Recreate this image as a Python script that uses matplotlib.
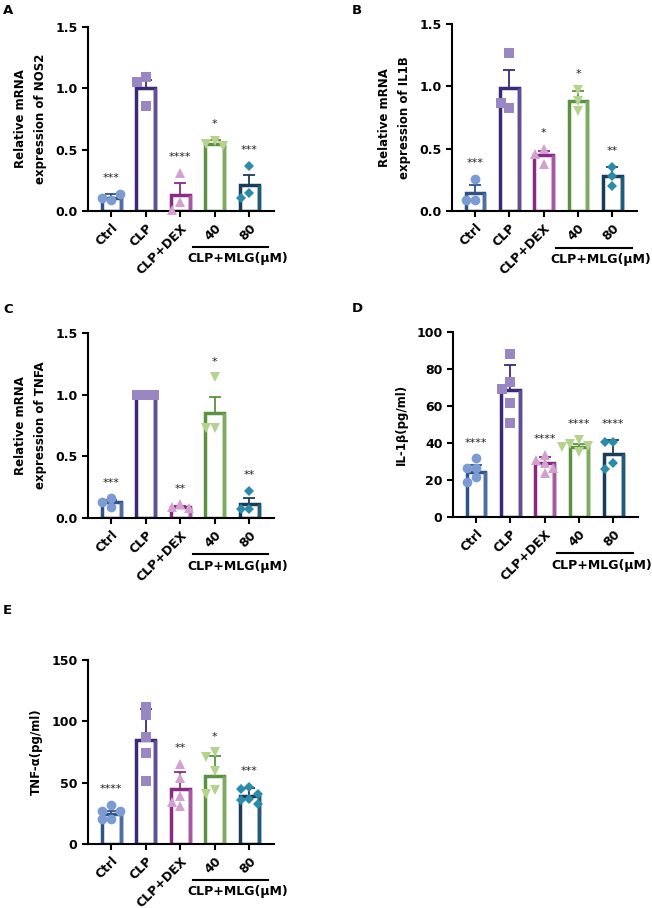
import numpy as np
import matplotlib
matplotlib.use('Agg')
import matplotlib.pyplot as plt
from matplotlib.colors import to_rgb
from matplotlib.ticker import FormatStrFormatter

plt.rcParams['font.family'] = ['DejaVu Sans']
plt.rcParams['font.weight'] = 'bold'
plt.rcParams['axes.labelweight'] = 'bold'

groups = ['Ctrl', 'CLP', 'CLP+DEX', '40', '80']
edge_colors = ['#2f5289', '#3b2a78', '#8a2a86', '#5a9240', '#1b3d5a']
point_colors = ['#7b9bd2', '#9a86c2', '#d3a0d0', '#b5d38e', '#2b8bab']
markers = ['o', 's', '^', 'v', 'D']
msizes = [7, 6.5, 7.5, 7.5, 5.5]

# A - NOS2
nos2_pts = [[0.09, 0.11, 0.14], [1.09, 1.05, 0.86], [0.31, 0.07, 0.01],
            [0.57, 0.55, 0.53], [0.37, 0.15, 0.11]]
nos2_mean = [0.11, 1.0, 0.13, 0.55, 0.21]
nos2_err = [0.025, 0.07, 0.095, 0.03, 0.085]
nos2_stars = ['***', '', '****', '*', '***']

# B - IL1B
il1b_pts = [[0.26, 0.09, 0.09], [1.27, 0.83, 0.87], [0.50, 0.46, 0.38],
            [0.97, 0.88, 0.80], [0.355, 0.28, 0.20]]
il1b_mean = [0.145, 0.99, 0.45, 0.88, 0.28]
il1b_err = [0.06, 0.14, 0.035, 0.085, 0.075]
il1b_stars = ['***', '', '*', '*', '**']

# C - TNFA
tnfa_pts = [[0.16, 0.13, 0.09], [1.0, 1.0, 1.0], [0.11, 0.09, 0.08],
            [1.14, 0.73, 0.73], [0.22, 0.07, 0.07]]
tnfa_mean = [0.13, 1.0, 0.09, 0.85, 0.11]
tnfa_err = [0.02, 0.0, 0.01, 0.135, 0.055]
tnfa_stars = ['***', '', '**', '*', '**']

# D - IL-1b protein
il1b_pg_pts = [[31.7, 26.3, 26.3, 21.8, 19.1], [88, 72.8, 69.2, 61.4, 50.6],
               [33.5, 30.8, 29, 26.7, 23.6], [41.6, 39.5, 38.4, 37.7, 35],
               [40.8, 40.8, 29, 25.8]]
il1b_pg_mean = [24.1, 68.4, 29, 37.7, 34.1]
il1b_pg_err = [4.0, 14, 3.6, 1.8, 7.5]
il1b_pg_stars = ['****', '', '****', '****', '****']

# E - TNF-a protein
tnfa_pg_pts = [[32, 27, 27, 20, 20], [112, 105, 87.5, 74, 51.6],
               [65.6, 53.5, 39.4, 34.5, 31], [74.7, 70.7, 59.5, 44, 40.5],
               [46.5, 45, 40.5, 37, 36, 32.5]]
tnfa_pg_mean = [24.5, 85, 44.8, 55.5, 39.1]
tnfa_pg_err = [2.5, 25, 14, 16.5, 6.3]
tnfa_pg_stars = ['****', '', '**', '*', '***']


def swarm(vals, h, step):
    placed = []
    offs = []
    for v in vals:
        for k in [0, -1, 1, -2, 2, -3, 3]:
            o = k * step
            if all(abs(o - po) > 1e-9 or abs(v - pv) >= h for po, pv in placed):
                break
        placed.append((o, v))
        offs.append(o)
    return np.array(offs)


def draw_panel(rect, pts, means, errs, stars, ymax, yticks, ylabel, fmt):
    ax = fig.add_axes(rect)
    x = np.arange(len(groups))
    bw = 0.55
    ax.bar(x, means, width=bw, color='white', edgecolor=edge_colors,
           linewidth=2.5, zorder=2)
    for i in range(len(groups)):
        # right side of the outline is a bit lighter, like the original
        mix = 0.6 * np.array(to_rgb(edge_colors[i])) + 0.4 * np.array(to_rgb(point_colors[i]))
        ax.plot([x[i] + bw / 2] * 2, [0, means[i]], color=mix, lw=2.5,
                solid_capstyle='butt', zorder=2.1)
        ax.errorbar(x[i], means[i], yerr=[[0], [errs[i]]], color=edge_colors[i],
                    lw=1.3, capsize=4.5, capthick=1.3, zorder=3)
        offs = swarm(pts[i], 0.045 * ymax, 0.25)
        ax.plot(x[i] + offs, pts[i], ls='none', marker=markers[i], ms=msizes[i],
                color=point_colors[i], mew=0, zorder=4, clip_on=False)
        if stars[i]:
            top = max(max(pts[i]), means[i] + errs[i])
            ax.text(x[i], top + 0.085 * ymax, stars[i], ha='center', va='center',
                    fontsize=8, color='#222222', fontweight='normal')
    ax.set_xlim(-0.67, 4.72)
    ax.set_ylim(0, ymax)
    ax.set_yticks(yticks)
    ax.yaxis.set_major_formatter(FormatStrFormatter(fmt))
    ax.set_xticks(x)
    ax.set_xticklabels(groups, rotation=45, ha='right', rotation_mode='anchor')
    ax.spines['top'].set_visible(False)
    ax.spines['right'].set_visible(False)
    ax.spines['left'].set_linewidth(1.5)
    ax.spines['bottom'].set_linewidth(1.5)
    ax.tick_params(width=1.5, length=4, labelsize=9)
    ax.set_ylabel(ylabel, fontsize=8.5, linespacing=1.7, labelpad=6)
    tr = ax.get_xaxis_transform()
    ax.plot([2.36, 4.56], [-0.196, -0.196], transform=tr, color='black',
            lw=1.5, clip_on=False)
    ax.text(3.66, -0.26, 'CLP+MLG(μM)', transform=tr, ha='center', va='center',
            fontsize=9)
    return ax


W, H = 652, 908
fig = plt.figure(figsize=(W / 100, H / 100), dpi=100)


def rect(l, r, t, b):
    return [l / W, (H - b) / H, (r - l) / W, (b - t) / H]


draw_panel(rect(88, 274, 27, 211), nos2_pts, nos2_mean, nos2_err, nos2_stars,
           1.5, [0, 0.5, 1.0, 1.5], 'Relative mRNA\nexpression of NOS2', '%.1f')
draw_panel(rect(452, 637, 24, 211), il1b_pts, il1b_mean, il1b_err, il1b_stars,
           1.5, [0, 0.5, 1.0, 1.5], 'Relative mRNA\nexpression of IL1B', '%.1f')
draw_panel(rect(88, 274, 333, 518), tnfa_pts, tnfa_mean, tnfa_err, tnfa_stars,
           1.5, [0, 0.5, 1.0, 1.5], 'Relative mRNA\nexpression of TNFA', '%.1f')
draw_panel(rect(453, 638, 332, 517), il1b_pg_pts, il1b_pg_mean, il1b_pg_err,
           il1b_pg_stars, 100, [0, 20, 40, 60, 80, 100], 'IL-1β(pg/ml)', '%d')
draw_panel(rect(88, 274, 660, 844), tnfa_pg_pts, tnfa_pg_mean, tnfa_pg_err,
           tnfa_pg_stars, 150, [0, 50, 100, 150], 'TNF-α(pg/ml)', '%d')

for letter, lx, ly in [('A', 3, 4), ('B', 352, 4), ('C', 3, 303),
                       ('D', 352, 302), ('E', 3, 604)]:
    fig.text(lx / W, 1 - ly / H, letter, fontsize=9.5, fontweight='bold',
             ha='left', va='top')

fig.savefig('out.png', dpi=100)
